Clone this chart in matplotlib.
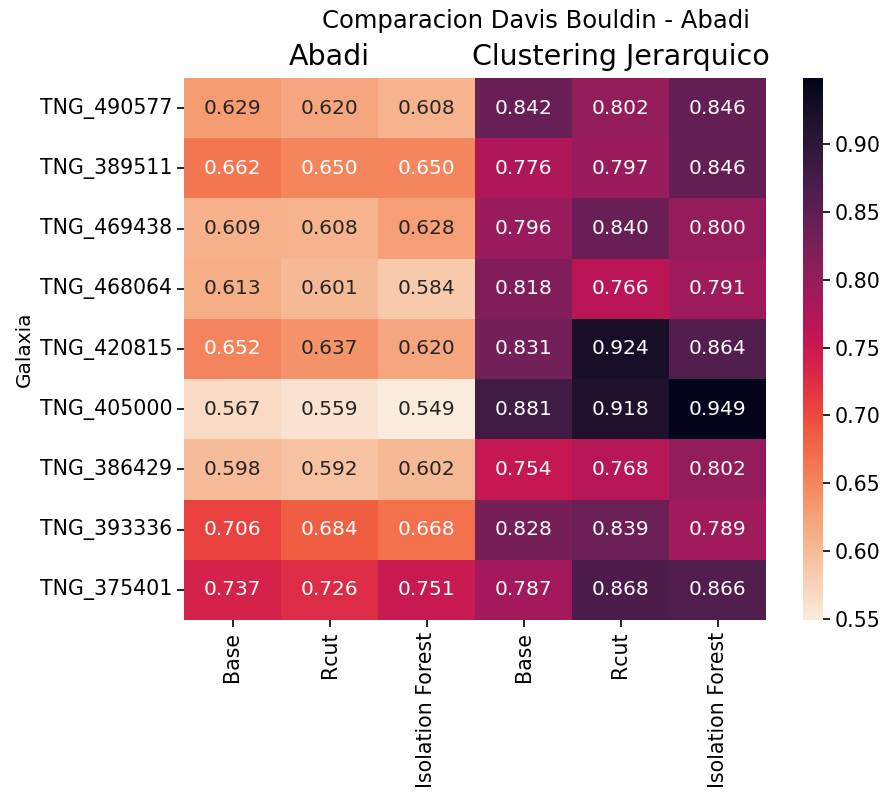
import numpy as np
import pandas as pd
import matplotlib
matplotlib.use("Agg")
import matplotlib.pyplot as plt
import seaborn as sns

galaxias = ["TNG_490577", "TNG_389511", "TNG_469438", "TNG_468064", "TNG_420815",
            "TNG_405000", "TNG_386429", "TNG_393336", "TNG_375401"]
metodos = ["Base", "Rcut", "Isolation Forest", "Base", "Rcut", "Isolation Forest"]

abadi = [[0.629, 0.620, 0.608],
         [0.662, 0.650, 0.650],
         [0.609, 0.608, 0.628],
         [0.613, 0.601, 0.584],
         [0.652, 0.637, 0.620],
         [0.567, 0.559, 0.549],
         [0.598, 0.592, 0.602],
         [0.706, 0.684, 0.668],
         [0.737, 0.726, 0.751]]

jerarquico = [[0.842, 0.802, 0.846],
              [0.776, 0.797, 0.846],
              [0.796, 0.840, 0.800],
              [0.818, 0.766, 0.791],
              [0.831, 0.924, 0.864],
              [0.881, 0.918, 0.949],
              [0.754, 0.768, 0.802],
              [0.828, 0.839, 0.789],
              [0.787, 0.868, 0.866]]

datos = np.hstack([np.array(abadi), np.array(jerarquico)])
df = pd.DataFrame(datos, index=galaxias)

W, H = 893, 794
fig = plt.figure(figsize=(W/100, H/100), dpi=100)
ax = fig.add_axes([184/W, 1-620/H, 582/W, 542/H])
cax = fig.add_axes([803/W, 1-620/H, 20/W, 542/H])

sns.heatmap(df, ax=ax, cbar_ax=cax, cmap="rocket_r", annot=True, fmt=".3f",
            annot_kws={"fontsize": 14.5})
ax.set_xticklabels(metodos, rotation=90, fontsize=14.8)
ax.set_yticklabels(galaxias, rotation=0, fontsize=14.8)
ax.set_ylabel("Galaxia", fontsize=14.5)
ax.tick_params(length=5, width=1.2)
cax.tick_params(labelsize=14.8, length=5, width=1.2)

fig.text(536/W, 1-21/H, "Comparacion Davis Bouldin - Abadi", ha="center", va="center", fontsize=17.5)
fig.text((184 + 291/2)/W, 1-57/H, "Abadi", ha="center", va="center", fontsize=20.5)
fig.text((184 + 3*291/2)/W, 1-57/H, "Clustering Jerarquico", ha="center", va="center", fontsize=20.5)

fig.savefig("out.png", dpi=100)
